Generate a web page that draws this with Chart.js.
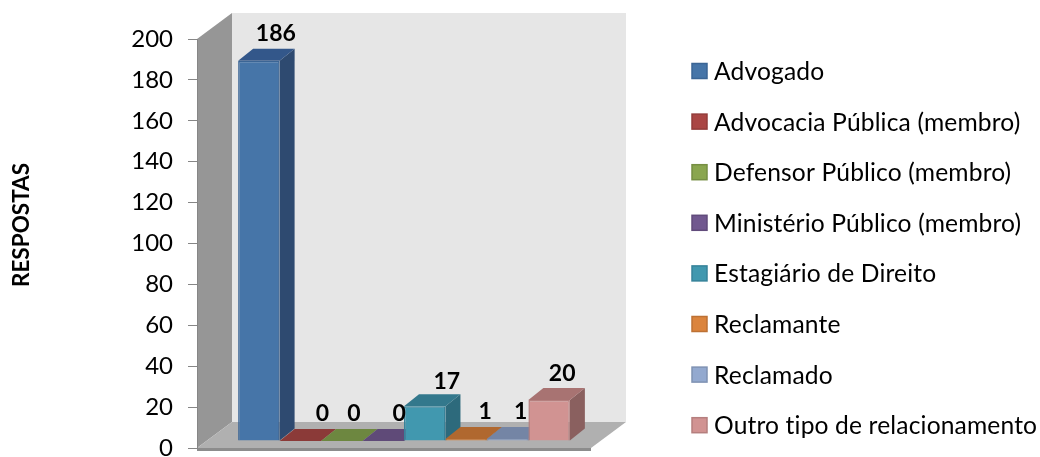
<!DOCTYPE html>
<html lang="pt">
<head>
  <meta charset="UTF-8" />
  <title>Respostas</title>
  <script src="https://cdn.jsdelivr.net/npm/chart.js"></script>
  <style>
    body { margin: 0; background: #fff; }
    canvas { display: block; }
  </style>
</head>
<body>
  <canvas id="chart" width="1040" height="457"></canvas>

  <script>
    const categories = ["Respostas"];
    const seriesNames = [
      "Advogado",
      "Advocacia Pública (membro)",
      "Defensor Público (membro)",
      "Ministério Público (membro)",
      "Estagiário de Direito",
      "Reclamante",
      "Reclamado",
      "Outro tipo de relacionamento"
    ];
    const seriesValues = [186, 0, 0, 0, 17, 1, 1, 20];
    const yTicks = [0, 20, 40, 60, 80, 100, 120, 140, 160, 180, 200];

    const frontColors = ["#4675a8", "#aa4644", "#8aa64f", "#71588f", "#4198af", "#db843d", "#93a9cf", "#d19392"];
    const sideColors = ["#2e4a70", "#7c3332", "#647a39", "#523f69", "#2d6a7c", "#a0602c", "#6b7b97", "#8a605f"];
    const topColors = ["#33578a", "#8b3a38", "#6d8740", "#5f4a78", "#33788c", "#b0682f", "#7485a5", "#a87372"];
    const edgeColors = ["#3b6595", "#933c3a", "#768f43", "#614b7b", "#37839a", "#bd7134", "#7f92b3", "#b57f7e"];

    const font = "Lato, sans-serif";
    const wallDepth = { x: 35, y: -26 };  // left wall / floor depth
    const barShift = { x: 10, y: -7 };    // bars stand in the middle of the floor
    const barDepth = { x: 15, y: -12 };
    const labelNudge = [17, 22, 12, 16, 22, 19, 13, 13]; // data labels were moved by hand in the original
    const labelLift = [27, 27, 27, 27, 25, 27, 27, 27];

    function poly(ctx, color, pts) {
      ctx.fillStyle = color;
      ctx.beginPath();
      pts.forEach((p, i) => i ? ctx.lineTo(p[0], p[1]) : ctx.moveTo(p[0], p[1]));
      ctx.closePath();
      ctx.fill();
    }

    const box3d = {
      id: "box3d",
      beforeDraw(chart) {
        const { ctx, chartArea: a } = chart;
        const dx = wallDepth.x, dy = wallDepth.y;
        // back wall, left wall, floor
        poly(ctx, "#e6e6e6", [[a.left + dx, a.top + dy], [a.right + dx, a.top + dy], [a.right + dx, a.bottom + dy], [a.left + dx, a.bottom + dy]]);
        poly(ctx, "#969696", [[a.left, a.top], [a.left + dx, a.top + dy], [a.left + dx, a.bottom + dy], [a.left, a.bottom]]);
        poly(ctx, "#b0b0b0", [[a.left, a.bottom], [a.left + dx, a.bottom + dy], [a.right + dx, a.bottom + dy], [a.right, a.bottom]]);
        poly(ctx, "#8c8c8c", [[a.left, a.bottom], [a.right, a.bottom], [a.right, a.bottom + 3], [a.left, a.bottom + 3]]);
      },
      beforeDatasetsDraw(chart) {
        const ctx = chart.ctx;
        chart.data.datasets.forEach((ds, i) => {
          const bar = chart.getDatasetMeta(i).data[0];
          const l = bar.x - bar.width / 2 + barShift.x;
          const r = bar.x + bar.width / 2 + barShift.x;
          const t = bar.y + barShift.y;
          const b = bar.base + barShift.y;
          const dx = barDepth.x, dy = barDepth.y;
          poly(ctx, sideColors[i], [[r, t], [r + dx, t + dy], [r + dx, b + dy], [r, b]]);
          poly(ctx, topColors[i], [[l, t], [l + dx, t + dy], [r + dx, t + dy], [r, t]]);
        });
        ctx.save();
        ctx.translate(barShift.x, barShift.y);
      },
      afterDatasetsDraw(chart) {
        const ctx = chart.ctx;
        ctx.restore();

        // data labels
        ctx.save();
        ctx.fillStyle = "#000";
        ctx.font = "bold 23px " + font;
        ctx.textAlign = "center";
        ctx.textBaseline = "middle";
        chart.data.datasets.forEach((ds, i) => {
          const bar = chart.getDatasetMeta(i).data[0];
          ctx.fillText(ds.data[0], bar.x + barShift.x + labelNudge[i], bar.y + barShift.y - labelLift[i]);
        });

        // axis title
        ctx.save();
        ctx.translate(22, 225);
        ctx.rotate(-Math.PI / 2);
        ctx.font = "bold 22.5px " + font;
        ctx.fillText("RESPOSTAS", 0, 0);
        ctx.restore();

        // legend
        ctx.font = "24.6px " + font;
        ctx.letterSpacing = "0.15px";
        ctx.textAlign = "left";
        chart.data.datasets.forEach((ds, i) => {
          const y = 71 + i * 50.6;
          ctx.fillStyle = ds.backgroundColor;
          ctx.strokeStyle = ds.borderColor;
          ctx.lineWidth = 1.5;
          ctx.fillRect(692, y - 7.5, 15, 15);
          ctx.strokeRect(692, y - 7.5, 15, 15);
          ctx.fillStyle = "#000";
          ctx.fillText(ds.label, 714, y + 1);
        });
        ctx.restore();
      }
    };

    new Chart(document.getElementById("chart"), {
      type: "bar",
      data: {
        labels: categories,
        datasets: seriesNames.map((name, i) => ({
          label: name,
          data: [seriesValues[i]],
          backgroundColor: frontColors[i],
          borderColor: edgeColors[i],
          borderWidth: 1.5,
          clip: false
        }))
      },
      options: {
        responsive: false,
        animation: false,
        layout: { autoPadding: false, padding: { left: 0, right: 449, top: 39, bottom: 9 } },
        datasets: { bar: { barPercentage: 1, categoryPercentage: 0.842 } },
        scales: {
          x: { display: false },
          y: {
            min: 0,
            max: 200,
            afterBuildTicks(scale) { scale.ticks = yTicks.map(v => ({ value: v })); },
            afterFit(scale) {
              scale.width = 197;
              scale.paddingTop = 0;
              scale.paddingBottom = 0;
            },
            border: { color: "#868686", width: 1 },
            grid: { drawOnChartArea: false, drawTicks: true, tickLength: 9, color: "#868686" },
            ticks: { color: "#000", padding: 15, font: { family: font, size: 24 } }
          }
        },
        plugins: {
          legend: { display: false },
          tooltip: { enabled: false }
        }
      },
      plugins: [box3d]
    });
  </script>
</body>
</html>
